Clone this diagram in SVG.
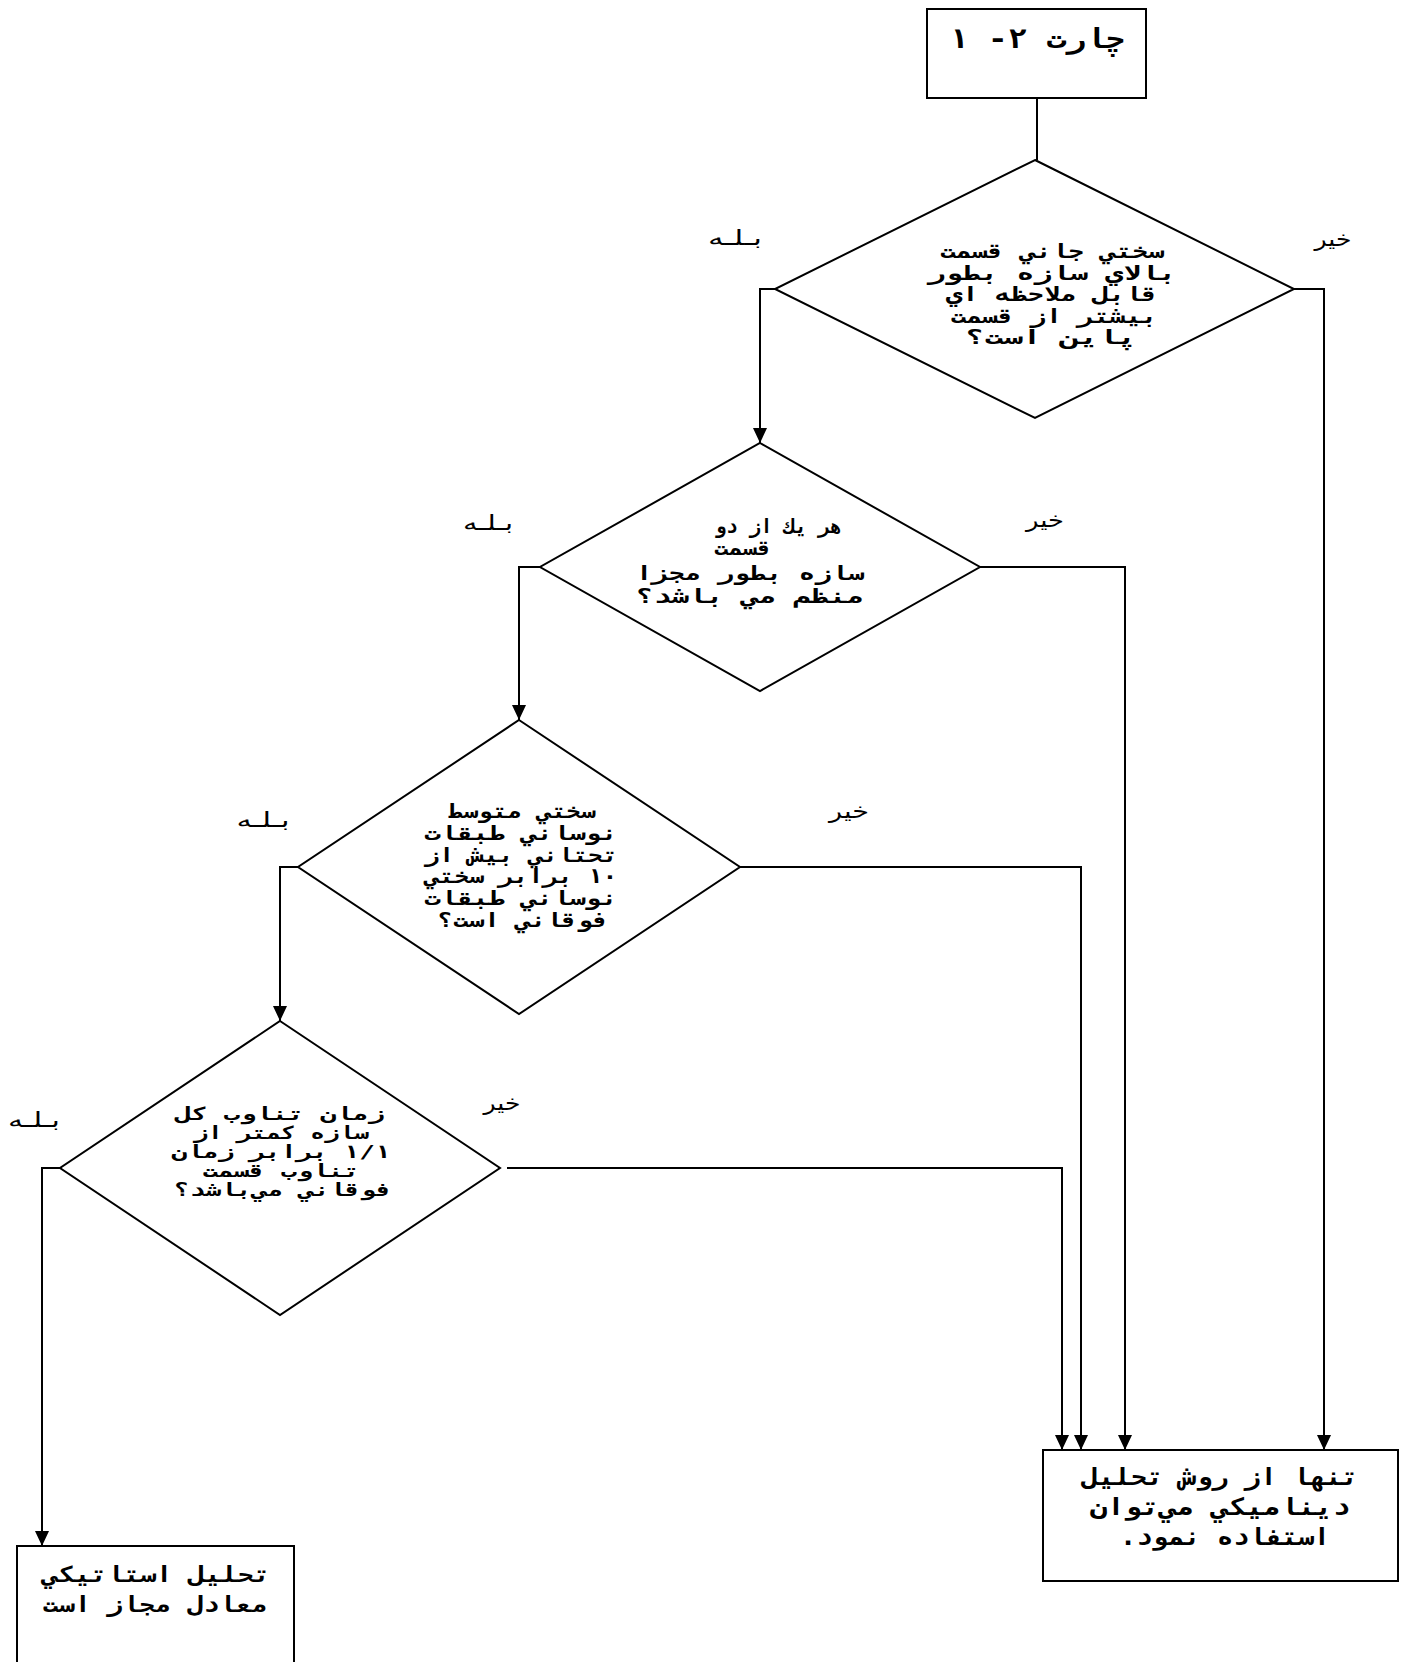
<svg xmlns="http://www.w3.org/2000/svg" width="1405" height="1662" viewBox="0 0 1405 1662">
<defs>
<style>
.shape{fill:#fff;stroke:#000;stroke-width:2}
.conn{fill:none;stroke:#000;stroke-width:2}
.t{font-family:"DejaVu Sans Mono","DejaVu Sans",monospace;font-weight:bold;fill:#000;text-anchor:middle;direction:rtl}
.d{font-size:20px}
.s{font-size:18px}
.lbl{font-family:"DejaVu Sans",sans-serif;font-size:21px;fill:#000;text-anchor:middle;direction:rtl}
</style>
<marker id="arr" viewBox="0 0 15 14" refX="15" refY="7" markerWidth="15" markerHeight="14" markerUnits="userSpaceOnUse" orient="auto">
<path d="M0,0 L15,7 L0,14 z" fill="#000"/>
</marker>
</defs>
<rect width="1405" height="1662" fill="#fff"/>

<g id="connectors">
<path class="conn" d="M1037,98 V160"/>
<path class="conn" d="M775,289 H760 V443" marker-end="url(#arr)"/>
<path class="conn" d="M1294,289 H1324 V1450" marker-end="url(#arr)"/>
<path class="conn" d="M540,567 H519 V720" marker-end="url(#arr)"/>
<path class="conn" d="M980,567 H1125 V1450" marker-end="url(#arr)"/>
<path class="conn" d="M298,867 H280 V1021" marker-end="url(#arr)"/>
<path class="conn" d="M740,867 H1081 V1450" marker-end="url(#arr)"/>
<path class="conn" d="M60,1168 H42 V1546" marker-end="url(#arr)"/>
<path class="conn" d="M507,1168 H1062 V1450" marker-end="url(#arr)"/>
</g>

<g id="start">
<rect class="shape" x="927" y="9" width="219" height="89"/>
<text class="t" x="1037" y="48" font-size="27" textLength="176" lengthAdjust="spacingAndGlyphs">چارت ۲- ۱</text>
</g>

<g id="q1">
<polygon class="shape" points="1035,160 1294,289 1035,418 775,289"/>
<text class="t d" x="1052" y="258" textLength="224" lengthAdjust="spacingAndGlyphs">سختي جاني قسمت</text>
<text class="t d" x="1052" y="279.5" textLength="249" lengthAdjust="spacingAndGlyphs">بالاي سازه بطور</text>
<text class="t d" x="1052" y="301" textLength="212" lengthAdjust="spacingAndGlyphs">قابل ملاحظه اي</text>
<text class="t d" x="1054" y="322.5" textLength="207" lengthAdjust="spacingAndGlyphs">بيشتر از قسمت</text>
<text class="t d" x="1051" y="344" textLength="171" lengthAdjust="spacingAndGlyphs">پاين است؟</text>
<text class="lbl" x="735" y="245" textLength="54" lengthAdjust="spacingAndGlyphs">بـلـه</text>
<text class="lbl" x="1333" y="246" textLength="37" lengthAdjust="spacingAndGlyphs">خير</text>
</g>

<g id="q2">
<polygon class="shape" points="760,443 980,567 760,691 540,567"/>
<text class="t d" x="778" y="533" textLength="127" lengthAdjust="spacingAndGlyphs">هر يك از دو</text>
<text class="t d" x="743" y="555" textLength="58" lengthAdjust="spacingAndGlyphs">قسمت</text>
<text class="t d" x="750" y="580" textLength="228" lengthAdjust="spacingAndGlyphs">سازه بطور مجزا</text>
<text class="t d" x="750" y="603" textLength="228" lengthAdjust="spacingAndGlyphs">منظم مي باشد؟</text>
<text class="lbl" x="488" y="530" textLength="50" lengthAdjust="spacingAndGlyphs">بـلـه</text>
<text class="lbl" x="1045" y="527" textLength="38" lengthAdjust="spacingAndGlyphs">خير</text>
</g>

<g id="q3">
<polygon class="shape" points="519,720 740,867 519,1014 298,867"/>
<text class="t d" x="522" y="818" textLength="147" lengthAdjust="spacingAndGlyphs">سختي متوسط</text>
<text class="t d" x="521" y="840" textLength="193" lengthAdjust="spacingAndGlyphs">نوساني طبقات</text>
<text class="t d" x="521" y="861.5" textLength="193" lengthAdjust="spacingAndGlyphs">تحتاني بيش از</text>
<text class="t d" x="521" y="883" textLength="193" lengthAdjust="spacingAndGlyphs">۱۰ برابر سختي</text>
<text class="t d" x="521" y="905" textLength="193" lengthAdjust="spacingAndGlyphs">نوساني طبقات</text>
<text class="t d" x="523" y="926.5" textLength="171" lengthAdjust="spacingAndGlyphs">فوقاني است؟</text>
<text class="lbl" x="263" y="827" textLength="53" lengthAdjust="spacingAndGlyphs">بـلـه</text>
<text class="lbl" x="849" y="818" textLength="40" lengthAdjust="spacingAndGlyphs">خير</text>
</g>

<g id="q4">
<polygon class="shape" points="280,1021 500,1168 280,1315 60,1168"/>
<text class="t s" x="280" y="1120" textLength="209" lengthAdjust="spacingAndGlyphs">زمان تناوب كل</text>
<text class="t s" x="281" y="1139" textLength="175" lengthAdjust="spacingAndGlyphs">سازه كمتر از</text>
<text class="t s" x="281" y="1158" textLength="219" lengthAdjust="spacingAndGlyphs">۱/۱ برابر زمان</text>
<text class="t s" x="281" y="1177" textLength="157" lengthAdjust="spacingAndGlyphs">تناوب قسمت</text>
<text class="t s" x="283" y="1196" textLength="218" lengthAdjust="spacingAndGlyphs">فوقاني مي‌باشد؟</text>
<text class="lbl" x="34" y="1127" textLength="52" lengthAdjust="spacingAndGlyphs">بـلـه</text>
<text class="lbl" x="502" y="1110" textLength="37" lengthAdjust="spacingAndGlyphs">خير</text>
</g>

<g id="dynamic">
<rect class="shape" x="1043" y="1450" width="355" height="131"/>
<text class="t" x="1220" y="1485" font-size="24" textLength="276" lengthAdjust="spacingAndGlyphs">تنها از روش تحليل</text>
<text class="t" x="1220" y="1515" font-size="24" textLength="260" lengthAdjust="spacingAndGlyphs">ديناميكي مي‌توان</text>
<text class="t" x="1225" y="1545" font-size="24" textLength="210" lengthAdjust="spacingAndGlyphs">استفاده نمود.</text>
</g>

<g id="static">
<rect class="shape" x="17" y="1546" width="277" height="130"/>
<text class="t" x="156" y="1582" font-size="22" textLength="228" lengthAdjust="spacingAndGlyphs">تحليل استاتيكي</text>
<text class="t" x="155" y="1612" font-size="22" textLength="225" lengthAdjust="spacingAndGlyphs">معادل مجاز است</text>
</g>
</svg>
